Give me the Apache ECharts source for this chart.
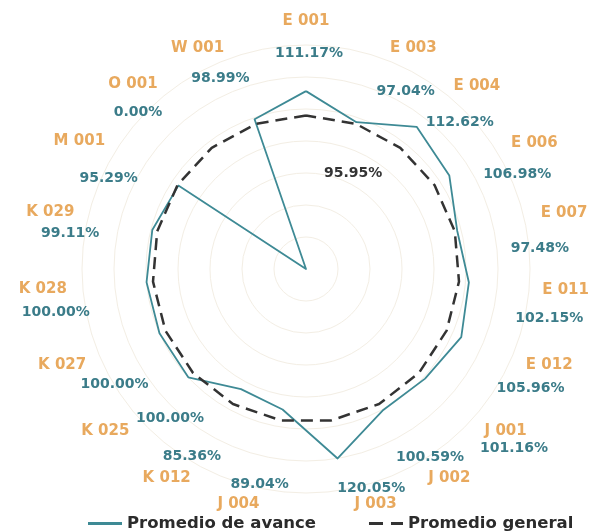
<!DOCTYPE html>
<html>
<head>
<meta charset="utf-8">
<script src="https://cdn.jsdelivr.net/npm/echarts@6/dist/echarts.min.js"></script>
<style>
html,body{margin:0;padding:0;background:#fff;}
#chart{width:593px;height:532px;}
</style>
</head>
<body>
<div id="chart"></div>
<script>
// ---- data (clockwise from top) ----
const categories = ['E 001','E 003','E 004','E 006','E 007','E 011','E 012','J 001','J 002','J 003','J 004','K 012','K 025','K 027','K 028','K 029','M 001','O 001','W 001'];
const avanceValues = [111.17, 97.04, 112.62, 106.98, 97.48, 102.15, 105.96, 101.16, 100.59, 120.05, 89.04, 85.36, 100.00, 100.00, 100.00, 99.11, 95.29, 0.00, 98.99];
const generalAverage = 95.95;
const seriesNames = ['Promedio de avance', 'Promedio general'];
const axisMax = 140;

// ---- label layout nudges in px [dx, dy] (layout only, not data) ----
const nameNudge = {
  'E 003': [6, 6], 'E 004': [0, 7], 'E 006': [4, 5], 'E 007': [2, 3], 'E 011': [-3, 1],
  'J 001': [2, 0], 'J 002': [8, -2], 'J 003': [9, -2], 'J 004': [-7, -2], 'K 012': [-1, -2],
  'K 029': [1, 2], 'M 001': [0, 3], 'O 001': [-1, 5], 'W 001': [-4, 6]
};
const valueNudge = {
  'E 001': [3, -1], 'E 003': [3, 19], 'E 004': [-8, 18], 'E 006': [3, 19], 'E 007': [3, 30],
  'E 011': [2, 32], 'E 012': [0, 36], 'J 001': [21, 38], 'J 002': [-9, 5], 'J 003': [-3, 14],
  'J 004': [17, 10], 'K 012': [14, 4], 'K 025': [51, 8], 'K 027': [33, 32], 'K 028': [-9, 26],
  'K 029': [-5, 15], 'M 001': [6, 23], 'O 001': [-16, 8], 'W 001': [11, 6]
};

// ECharts places radar indicators counter-clockwise; reorder so they run clockwise
const order = [0].concat(categories.map((_, i) => i).slice(1).reverse());
const cats = order.map(i => categories[i]);
const avance = order.map(i => avanceValues[i]);
const general = cats.map(() => generalAverage);
const indicators = cats.map(n => ({ name: n, max: axisMax, min: 0 }));

const FONT = 'DejaVu Sans';
const nameColor = '#E8A95E';
const valueColor = '#3B7C89';
const lineColor = '#3E8A95';

// padding that moves a radar axis name by [dx, dy] given ECharts' alignment for that axis
function padFor(idx, nudge) {
  const dx = nudge ? nudge[0] : 0, dy = nudge ? nudge[1] : 0;
  if (idx === 0) { // top axis: centered, bottom-aligned
    return [0, Math.max(0, -2 * dx), -dy, Math.max(0, 2 * dx)];
  }
  const pt = Math.max(0, 2 * dy), pb = Math.max(0, -2 * dy);
  const onRight = idx < categories.length / 2; // clockwise index in first half -> right side
  return onRight ? [pt, 0, pb, dx] : [pt, -dx, pb, 0];
}

const nameRich = {}, valueRich = {};
categories.forEach((c, i) => {
  nameRich['n' + i] = { fontFamily: FONT, fontSize: 15, fontWeight: 'bold', color: nameColor, padding: padFor(i, nameNudge[c]) };
  valueRich['v' + i] = { fontFamily: FONT, fontSize: 14, fontWeight: 'bold', color: valueColor, padding: padFor(i, valueNudge[c]) };
});

const hidden = {
  axisLine: { show: false }, splitLine: { show: false },
  splitArea: { show: false }, axisTick: { show: false }, axisLabel: { show: false }
};

const chart = echarts.init(document.getElementById('chart'));
chart.setOption({
  backgroundColor: '#fff',
  animation: false,
  title: {
    text: generalAverage.toFixed(2) + '%',
    left: 319, top: 161,
    textStyle: { fontFamily: FONT, fontSize: 14, fontWeight: 'bold', color: '#333' }
  },
  legend: {
    top: 510, left: 83, itemGap: 53, itemWidth: 34, itemHeight: 3,
    textStyle: { fontFamily: FONT, fontSize: 16.5, fontWeight: 'bold', color: '#2b2b2b' },
    data: [
      { name: seriesNames[0], icon: 'path://M0,0H34V3H0Z' },
      { name: seriesNames[1], icon: 'path://M0,0H14V3H0Z M22,0H34V3H22Z' }
    ]
  },
  radar: [
    {
      indicator: indicators, center: [306, 269], radius: 224, shape: 'circle',
      splitNumber: 7,
      axisName: { show: false },
      axisLine: { show: false },
      splitArea: { show: false },
      splitLine: { lineStyle: { color: '#F3EEE4', width: 1 } }
    },
    Object.assign({
      indicator: indicators, center: [306, 269], radius: 224, nameGap: 16,
      axisName: {
        formatter: function (name) {
          return '{n' + categories.indexOf(name) + '|' + name + '}';
        },
        rich: nameRich
      }
    }, hidden),
    Object.assign({
      indicator: indicators, center: [306, 269], radius: 190, nameGap: 18,
      axisName: {
        formatter: function (name) {
          const i = categories.indexOf(name);
          return '{v' + i + '|' + avanceValues[i].toFixed(2) + '%}';
        },
        rich: valueRich
      }
    }, hidden)
  ],
  series: [
    {
      type: 'radar', radarIndex: 0, name: seriesNames[0], symbol: 'none',
      itemStyle: { color: lineColor },
      lineStyle: { color: lineColor, width: 1.8 },
      data: [{ value: avance, name: seriesNames[0] }]
    },
    {
      type: 'radar', radarIndex: 0, name: seriesNames[1], symbol: 'none',
      itemStyle: { color: '#333' },
      lineStyle: { color: '#333', width: 2.5, type: [12, 7] },
      data: [{ value: general, name: seriesNames[1] }]
    }
  ]
});
</script>
</body>
</html>
